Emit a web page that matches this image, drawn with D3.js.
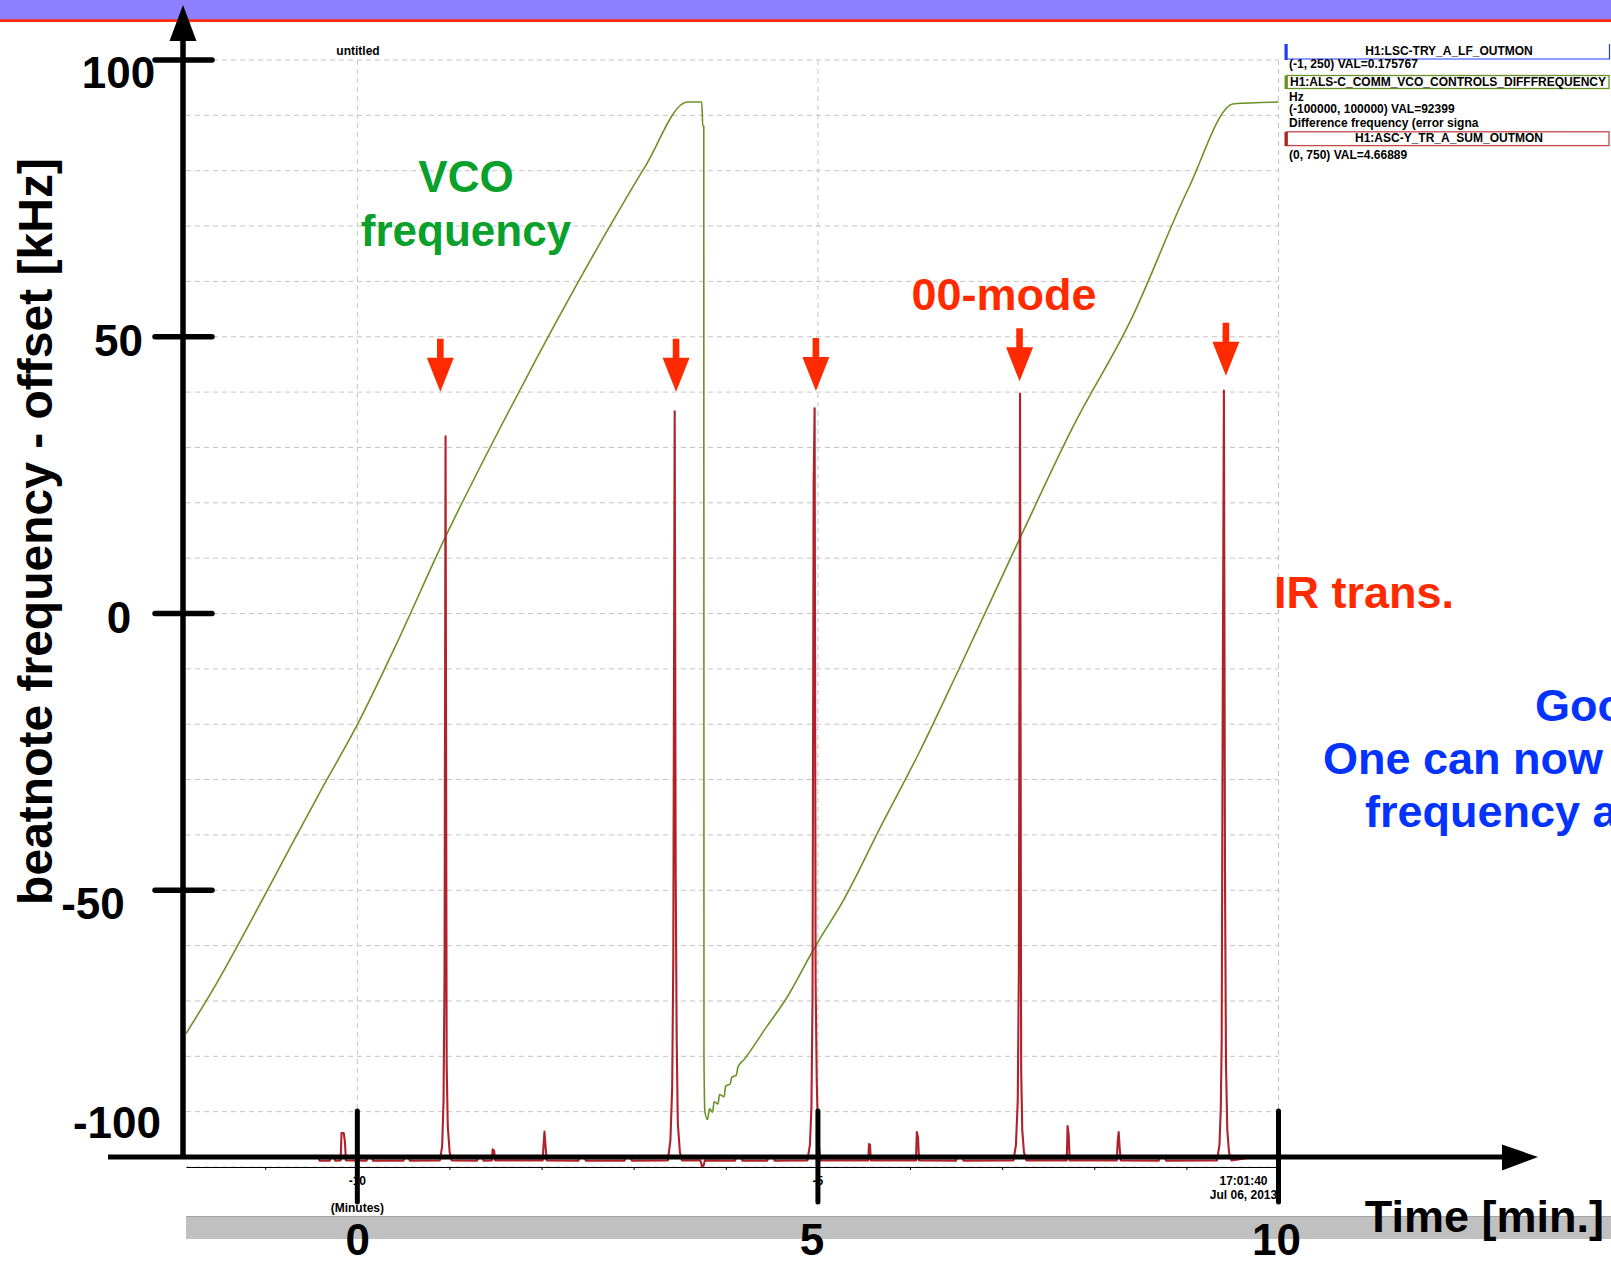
<!DOCTYPE html>
<html><head><meta charset="utf-8">
<script src="https://cdn.jsdelivr.net/npm/d3@7"></script>
<style>
html,body{margin:0;padding:0;background:#fff;overflow:hidden}
svg{display:block}
text{font-family:"Liberation Sans",Arial,Helvetica,sans-serif;font-weight:bold}
</style>
</head><body>
<svg id="chart" width="1611" height="1263"></svg>
<script>
// ---------------- DATA ----------------
// VCO (green) trace: [time in minutes, beatnote frequency - offset in kHz]
const vcoSamples = [
  [-1.86,-75.9],[-1.534,-67.0],[-1.147,-55.3],[-0.759,-43.2],[-0.370,-31.2],[-0.010,-20.4],[0.405,-6.2],[0.955,13.8],
  [1.568,34.1],[1.956,46.4],[2.150,52.4],[2.344,58.3],[2.732,69.7],[3.119,80.6],[3.584,92.4],[3.739,92.4],
  [3.750,88.0],[3.761,88.0],[3.763,-80.0],[3.773,-90.0],[3.802,-91.4],[3.823,-89.5],
  [3.857,-90.1],[3.873,-88.2],[3.915,-88.6],[3.932,-86.9],[3.982,-87.3],[3.998,-85.4],
  [4.048,-85.0],[4.064,-83.8],[4.114,-83.4],[4.131,-82.0],[4.198,-80.6],[4.446,-74.6],
  [4.655,-69.6],[4.966,-60.3],[5.278,-51.8],[5.694,-38.1],[6.109,-24.8],[6.524,-10.3],
  [7.198,13.8],[7.771,33.8],[8.394,52.9],[9.017,76.6],[9.516,92.1],[10.0,92.4]
];
// IR transmission (red) trace: [time in minutes, counts on the (0, 750) range]
const irSamples = [
  [-1.86,7.0],[-0.42,7.0],[-0.41,4.3],[-0.30,4.3],[-0.29,6.5],[-0.25,6.5],[-0.24,4.3],
  [-0.1813,4.5],[-0.1716,23],[-0.1477,23],[-0.1346,17],[-0.1238,4.5],
  [0.10,4.3],[0.11,6.5],[0.16,6.5],[0.17,4.3],[0.50,4.3],[0.51,6.5],[0.56,6.5],[0.57,4.3],
  [0.8958,4.5],[0.9207,14],[0.9359,45],[0.9468,132],[0.9577,495],[0.9696,70],[0.9815,28],[1.0022,10],[1.0239,4.5],
  [1.30,4.3],[1.31,6.5],[1.36,6.5],[1.37,4.3],
  [1.4604,4.5],[1.4691,12],[1.4853,11],[1.4962,4.5],
  [2.0119,4.5],[2.0228,16],[2.0315,24],[2.0434,14],[2.0554,4.5],
  [2.40,4.3],[2.41,6.5],[2.47,6.5],[2.48,4.3],[2.90,4.3],[2.91,6.5],[2.97,6.5],[2.98,4.3],
  [3.3713,4.5],[3.3985,18],[3.4180,54],[3.4300,142],[3.4452,512],[3.4560,198],[3.4669,86],[3.4788,30],[3.5016,10],[3.5233,4.5],
  [3.7242,4.5],[3.7405,0.5],[3.7568,0.5],[3.7731,4.5],
  [4.10,4.3],[4.11,6.5],[4.17,6.5],[4.18,4.3],[4.45,4.3],[4.46,6.5],[4.52,6.5],[4.53,4.3],
  [4.8860,4.5],[4.9131,15],[4.9294,40],[4.9414,113],[4.9533,461],[4.9642,514],[4.9750,125],[4.9870,60],[5.0011,20],[5.0271,4.5],
  [5.5461,4.5],[5.5548,15.6],[5.5657,15],[5.5744,4.5],
  [6.0641,4.5],[6.0738,23.7],[6.0869,20],[6.0977,4.5],
  [6.50,4.3],[6.51,6.5],[6.57,6.5],[6.58,4.3],
  [7.1227,4.5],[7.1498,15],[7.1694,45],[7.1813,133],[7.1944,524],[7.2063,66],[7.2182,25],[7.2367,10],[7.2638,4.5],
  [7.7014,4.5],[7.7101,27.8],[7.7220,22],[7.7329,4.5],
  [8.2443,4.5],[8.2552,18],[8.2649,23.7],[8.2769,12],[8.2877,4.5],
  [8.70,4.3],[8.71,6.5],[8.77,6.5],[8.78,4.3],
  [9.3322,4.5],[9.3594,15],[9.3735,40],[9.3833,85],[9.3930,284],[9.4072,526],[9.4191,198],[9.4300,70],[9.4441,25],[9.4626,10],[9.4897,4.5],
  [9.70,6.5],[10.0,6.5]
];
// 00-mode markers (arrows): time and tip height (kHz axis)
const arrowTimes = [0.901, 3.460, 4.978, 7.189, 9.429];
const arrowTipKHz = [40.05, 40.05, 40.2, 41.95, 42.96];

// annotation axes
const yTickValues = [100, 50, 0, -50, -100];
const yTickLabels = ["100", "50", "0", "-50", "-100"];
const yTickMarks = [100, 50, 0, -50];
const xTickValues = [0, 5, 10];
const xTickLabels = ["0", "5", "10"];

// DTT (diagnostic tool) plot axis
const dttMinorTicks = [-1,0,1,2,3,4,5,6,7,8,9,10];
const dttGridTimes = [0, 5, 10];
const dttTickLabels = [["-10", "(Minutes)"], ["-5"], ["17:01:40", "Jul 06, 2013"]];

// legend
const legendNames = ["H1:LSC-TRY_A_LF_OUTMON", "H1:ALS-C_COMM_VCO_CONTROLS_DIFFFREQUENCY", "H1:ASC-Y_TR_A_SUM_OUTMON"];
const legendInfo = [["(-1, 250) VAL=0.175767"], ["Hz", "(-100000, 100000) VAL=92399", "Difference frequency (error signa"], ["(0, 750) VAL=4.66889"]];
const legendColors = ["#1f3dff", "#6b9225", "#b22222"];

// text annotations
const vcoLabel = ["VCO", "frequency"];
const modeLabel = "00-mode";
const irLabel = "IR trans.";
const noteLines = ["Goo", "One can now", "frequency a"];
const yTitle = "beatnote frequency - offset [kHz]";
const xTitle = "Time [min.]";

// ---------------- DRAW ----------------
const svg = d3.select("#chart");
const x = d3.scaleLinear().domain([-1.86, 10]).range([186, 1278.5]);
const y = d3.scaleLinear().domain([-100, 100]).range([1167, 60]);
const yIR = d3.scaleLinear().domain([0, 750]).range([1167, 60]);

const GREEN_TRACE = "#6b9225", RED_TRACE = "#b0222a", ANN_RED = "#ff2a00";

// header band
svg.append("rect").attr("x",0).attr("y",0).attr("width",1611).attr("height",20).attr("fill","#8c80ff");
svg.append("line").attr("x1",0).attr("x2",1611).attr("y1",20.6).attr("y2",20.6).attr("stroke","#ff2a10").attr("stroke-width",2.6);

// grid
const grid = svg.append("g");
grid.selectAll("line.h").data(y.ticks(20)).join("line")
  .attr("x1", x(-1.86)).attr("x2", x(10)).attr("y1", d => y(d)).attr("y2", d => y(d))
  .attr("stroke", "#c4c4c4").attr("stroke-width", 1).attr("stroke-dasharray", "5,4");
grid.selectAll("line.v").data(dttGridTimes).join("line")
  .attr("x1", d => x(d)).attr("x2", d => x(d)).attr("y1", y(100)).attr("y2", y(-100))
  .attr("stroke", "#c4c4c4").attr("stroke-width", 1).attr("stroke-dasharray", "5,4");

// DTT bottom axis
const dttAxis = d3.axisBottom(x).tickValues(dttMinorTicks).tickSize(3).tickSizeOuter(0).tickFormat("");
const dttG = svg.append("g").attr("transform", `translate(0,${y(-100)})`).call(dttAxis);
dttG.select(".domain").attr("stroke", "#000").attr("stroke-width", 1);
dttG.selectAll(".tick line").attr("stroke", "#000");
dttTickLabels.forEach((lines, i) => {
  const t = dttGridTimes[i];
  lines.forEach((s, j) => {
    svg.append("text").attr("x", x(t) - (i === 2 ? 35 : 0)).attr("y", y(-100) + 18 + j * (i === 0 ? 27 : 14))
      .attr("text-anchor", "middle").attr("font-size", 12).attr("fill", "#000").text(s);
  });
});
svg.append("text").attr("x", 358).attr("y", 55).attr("text-anchor","middle").attr("font-size", 12).text("untitled");

// traces
const lineVco = d3.line().x(d => x(d[0])).y(d => y(d[1])).curve(d3.curveMonotoneX);
const lineIr = d3.line().x(d => x(d[0])).y(d => yIR(d[1]));
svg.append("path").attr("d", lineVco(vcoSamples)).attr("fill","none").attr("stroke", GREEN_TRACE)
  .attr("stroke-width", 1.6).attr("stroke-linejoin","round");
svg.append("path").attr("d", lineIr(irSamples)).attr("fill","none").attr("stroke", RED_TRACE)
  .attr("stroke-width", 2.1).attr("stroke-linejoin","round");

// legend
const lg = svg.append("g");
const boxY = [44, 75.5, 131.8], boxH = [15.5, 13, 13.8];
const nameY = [54.5, 85.5, 141.5];
const infoY = [[68.3], [101.3, 113.3, 126.6], [159.3]];
legendNames.forEach((nm, i) => {
  if (i === 0) {
    lg.append("path").attr("d", `M1287,${boxY[i]+boxH[i]-0.5} H1609.5 V${boxY[i]}`).attr("fill","none")
      .attr("stroke", legendColors[i]).attr("stroke-width", 1.2);
  } else {
    lg.append("rect").attr("x", 1287).attr("y", boxY[i]).attr("width", 322).attr("height", boxH[i])
      .attr("fill", "none").attr("stroke", i === 2 ? "#c24a4a" : legendColors[i]).attr("stroke-width", 1.3);
  }
  lg.append("rect").attr("x", 1284.5).attr("y", boxY[i]).attr("width", 3.2).attr("height", boxH[i] + 0.5).attr("fill", legendColors[i]);
  lg.append("text").attr("x", i === 1 ? 1290 : 1449).attr("y", nameY[i]).attr("text-anchor", i === 1 ? "start" : "middle")
    .attr("font-size", 12).attr("fill", "#000").text(nm);
  legendInfo[i].forEach((s, j) => {
    lg.append("text").attr("x", 1289).attr("y", infoY[i][j]).attr("font-size", 12).attr("fill","#000").text(s);
  });
});

// bottom gray band
svg.append("rect").attr("x", 186).attr("y", 1216).attr("width", 1611 - 186).attr("height", 23).attr("fill", "#c0c0c0");
svg.append("line").attr("x1", 186).attr("x2", 1611).attr("y1", 1216.5).attr("y2", 1216.5).attr("stroke", "#a4a4a4").attr("stroke-width", 1);

// annotation axes (black)
const ann = svg.append("g");
ann.append("line").attr("x1", 183).attr("x2", 183).attr("y1", 38).attr("y2", 1159).attr("stroke","#000").attr("stroke-width", 5.5);
ann.append("path").attr("d", "M183,5 L169.5,41 L196.5,41 Z").attr("fill", "#000");
ann.append("line").attr("x1", 108).attr("x2", 1506).attr("y1", 1157).attr("y2", 1157).attr("stroke","#000").attr("stroke-width", 5);
ann.append("path").attr("d", "M1538,1157 L1502,1144.5 L1502,1170.5 Z").attr("fill", "#000");
ann.selectAll("line.yt").data(yTickMarks).join("line")
  .attr("x1", 155).attr("x2", 212).attr("y1", d => y(d)).attr("y2", d => y(d))
  .attr("stroke", "#000").attr("stroke-width", 5.5).attr("stroke-linecap", "round");
ann.selectAll("line.xt").data(xTickValues).join("line")
  .attr("x1", d => x(d)).attr("x2", d => x(d)).attr("y1", 1111).attr("y2", 1202)
  .attr("stroke", "#000").attr("stroke-width", 5).attr("stroke-linecap", "round");

const yLabelDx = [118.5, 118.5, 119, 93, 117];
const yLabelDy = [28, 19, 19, 29, -29];
ann.selectAll("text.yl").data(yTickValues).join("text")
  .attr("x", (d, i) => yLabelDx[i]).attr("y", (d, i) => y(d) + yLabelDy[i])
  .attr("text-anchor", "middle").attr("font-size", 44).attr("fill", "#000")
  .text((d, i) => yTickLabels[i]);
const xLabelNudge = [0.5, -6, -2];
ann.selectAll("text.xl").data(xTickValues).join("text")
  .attr("x", (d, i) => x(d) + xLabelNudge[i]).attr("y", 1255)
  .attr("text-anchor", "middle").attr("font-size", 44).attr("fill", "#000")
  .text((d, i) => xTickLabels[i]);

ann.append("text").attr("transform", "translate(51.5,531.5) rotate(-90)").attr("text-anchor", "middle")
  .attr("font-size", 48).attr("fill", "#000").text(yTitle);
ann.append("text").attr("x", 1604).attr("y", 1232).attr("text-anchor", "end").attr("font-size", 45).attr("fill", "#000").text(xTitle);

// arrows
svg.selectAll("path.arrow").data(arrowTimes).join("path")
  .attr("d", (t, i) => {
    const cx = x(t), tip = y(arrowTipKHz[i]);
    return `M${cx-3.3},${tip-53} L${cx+3.3},${tip-53} L${cx+3.3},${tip-34} L${cx+13.5},${tip-34} L${cx},${tip} L${cx-13.5},${tip-34} L${cx-3.3},${tip-34} Z`;
  })
  .attr("fill", ANN_RED);

// labels
vcoLabel.forEach((s, i) => {
  svg.append("text").attr("x", 466).attr("y", 192 + i * 54).attr("text-anchor", "middle")
    .attr("font-size", 44).attr("fill", "#0aa02c").text(s);
});
svg.append("text").attr("x", 1004).attr("y", 310).attr("text-anchor", "middle").attr("font-size", 45).attr("fill", ANN_RED).text(modeLabel);
svg.append("text").attr("x", 1274).attr("y", 607.5).attr("font-size", 45).attr("fill", ANN_RED).text(irLabel);
const noteX = [1535, 1323, 1365];
noteLines.forEach((s, i) => {
  svg.append("text").attr("x", noteX[i]).attr("y", 720.7 + i * 53.1).attr("font-size", 45).attr("fill", "#0433ff").text(s);
});
</script>
</body></html>
